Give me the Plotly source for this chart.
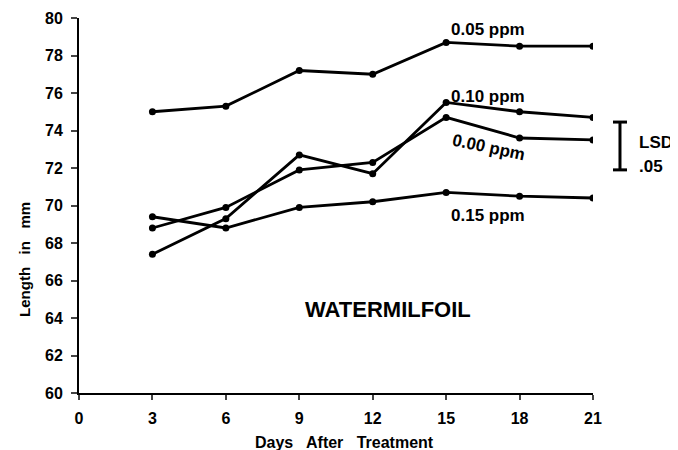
import plotly.graph_objects as go

days = [3, 6, 9, 12, 15, 18, 21]
ppm_005 = [75.0, 75.3, 77.2, 77.0, 78.7, 78.5, 78.5]
ppm_010 = [67.4, 69.3, 72.7, 71.7, 75.5, 75.0, 74.7]
ppm_000 = [68.8, 69.9, 71.9, 72.3, 74.7, 73.6, 73.5]
ppm_015 = [69.4, 68.8, 69.9, 70.2, 70.7, 70.5, 70.4]
series = [("0.05 ppm", ppm_005), ("0.10 ppm", ppm_010), ("0.00 ppm", ppm_000), ("0.15 ppm", ppm_015)]

x_ticks = [0, 3, 6, 9, 12, 15, 18, 21]
y_ticks = [60, 62, 64, 66, 68, 70, 72, 74, 76, 78, 80]
lsd_low, lsd_high = 71.9, 74.45
y_min, y_max = 60, 80

FONT = "Liberation Sans"
fig = go.Figure()
for name, vals in series:
    fig.add_trace(go.Scatter(x=days, y=vals, mode="lines+markers", name=name,
                             line=dict(color="black", width=2.8),
                             marker=dict(color="black", size=7),
                             showlegend=False))

# page body has an 8px margin, so the figure is 670x442 placed at (8, 8)
fig.update_layout(
    width=670, height=442,
    margin=dict(l=71, r=85, t=10, b=57, autoexpand=False),
    paper_bgcolor="white", plot_bgcolor="white",
    font=dict(family=FONT, color="black"),
    xaxis=dict(range=[0, 21], tickvals=x_ticks, ticks="outside", ticklen=5, tickwidth=1.5,
               showline=True, linecolor="black", linewidth=2, showgrid=False, zeroline=False,
               automargin=False, ticklabelstandoff=5, tickfont=dict(size=16, weight="bold")),
    yaxis=dict(range=[y_min, y_max], tickvals=y_ticks, ticks="outside", ticklen=6, tickwidth=1.5,
               showline=True, linecolor="black", linewidth=2, showgrid=False, zeroline=False,
               automargin=False, ticklabelstandoff=5, tickfont=dict(size=16, weight="bold")),
)

# axis titles
fig.add_annotation(xref="paper", yref="paper", x=0.5175, y=-0.1307, text="Days   After   Treatment",
                   showarrow=False, xanchor="center", yanchor="middle",
                   font=dict(size=16, weight="bold", color="black"))
fig.add_annotation(xref="paper", yref="paper", x=-0.105, y=0.355, text="Length   in   mm",
                   showarrow=False, xanchor="center", yanchor="middle", textangle=-90,
                   font=dict(size=15, weight="bold", color="black"))

ann_font = dict(size=17, weight="bold", color="black")
fig.add_annotation(x=15.1, y=79.41, text="0.05 ppm", showarrow=False, xanchor="left", yanchor="middle", font=ann_font)
fig.add_annotation(x=15.1, y=75.79, text="0.10 ppm", showarrow=False, xanchor="left", yanchor="middle", font=ann_font)
fig.add_annotation(x=16.75, y=73.12, text="0.00 ppm", showarrow=False, xanchor="center", yanchor="middle",
                   textangle=12, font=ann_font)
fig.add_annotation(x=15.1, y=69.49, text="0.15 ppm", showarrow=False, xanchor="left", yanchor="middle", font=ann_font)
fig.add_annotation(x=12.62, y=64.43, text="WATERMILFOIL", showarrow=False, xanchor="center", yanchor="middle",
                   font=dict(size=22, weight="bold", color="black"))

# LSD bar (paper coordinates to the right of the plot area)
px = 1.0525
p_lo = (lsd_low - y_min) / (y_max - y_min)
p_hi = (lsd_high - y_min) / (y_max - y_min)
cap = 7 / 514.0
line = dict(color="black", width=3)
fig.add_shape(type="line", xref="paper", yref="paper", x0=px, x1=px, y0=p_lo, y1=p_hi, line=line)
fig.add_shape(type="line", xref="paper", yref="paper", x0=px - cap, x1=px + cap, y0=p_lo, y1=p_lo, line=line)
fig.add_shape(type="line", xref="paper", yref="paper", x0=px - cap, x1=px + cap, y0=p_hi, y1=p_hi, line=line)
fig.add_annotation(xref="paper", yref="paper", x=(637 - 79) / 514.0, y=0.667, text="LSD", showarrow=False,
                   xanchor="left", yanchor="middle", font=ann_font)
fig.add_annotation(xref="paper", yref="paper", x=(637 - 79) / 514.0, y=0.605, text=".05", showarrow=False,
                   xanchor="left", yanchor="middle", font=ann_font)

fig.write_html("out.html")
